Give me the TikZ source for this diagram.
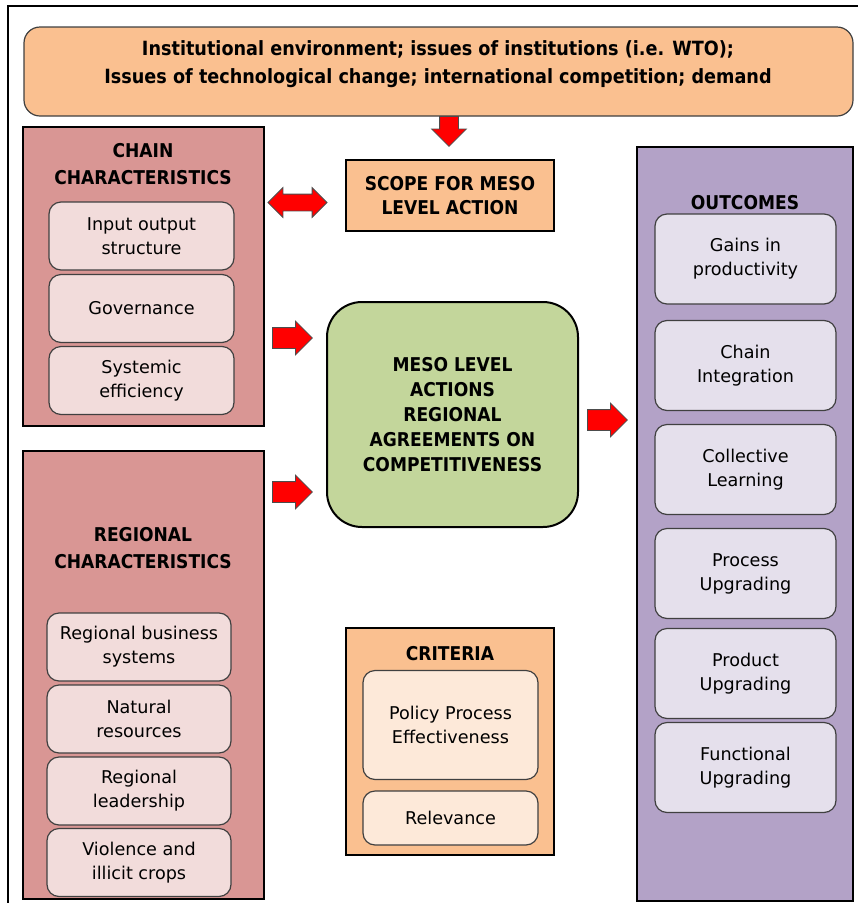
\documentclass[tikz,border=0pt]{standalone}
\usepackage{fontspec}
\setmainfont{DejaVu Sans}[BoldFeatures={FakeStretch=0.9}]
\usetikzlibrary{shapes.arrows}
\definecolor{peach}{HTML}{FAC090}
\definecolor{lightpeach}{HTML}{FDE9D9}
\definecolor{rose}{HTML}{D99694}
\definecolor{lightrose}{HTML}{F2DCDB}
\definecolor{mesogreen}{HTML}{C3D69B}
\definecolor{lilac}{HTML}{B3A2C7}
\definecolor{lightlilac}{HTML}{E5E0EC}
\begin{document}
\begin{tikzpicture}[x=1pt, y=-1pt,
    panel/.style={draw=black, line width=2.5pt, inner sep=0pt},
    itembox/.style={draw=black!75, line width=1.2pt, rounded corners=12pt, inner sep=0pt,
      align=center, font=\fontsize{17.6}{24}\selectfont},
    headtext/.style={align=center, font=\bfseries\fontsize{19}{27}\selectfont},
    fatarrow/.style={single arrow, draw=black!70, fill=red, line width=0.8pt,
      inner xsep=0pt, inner ysep=10pt, single arrow head extend=6.5pt,
      minimum height=40pt, anchor=tail},
    fatboth/.style={double arrow, draw=black!70, fill=red, line width=0.8pt,
      inner xsep=0pt, inner ysep=8pt, double arrow head extend=6.5pt,
      minimum height=59pt}]
  \useasboundingbox (0,0) rectangle (858,903);
  \draw[line width=1.6pt] (8,903) |- (858,6);

  \node[draw=black!75, line width=1.2pt, fill=peach, rounded corners=16pt,
    minimum width=829pt, minimum height=89pt] (env) at (438.5,71.5) {};
  \node[headtext, font=\bfseries\fontsize{19.6}{28}\selectfont] (envtext) at (438,64)
    {Institutional environment; issues of institutions (i.e. WTO);\\
     Issues of technological change; international competition; demand};

  \node[panel, fill=peach, minimum width=208pt, minimum height=71pt,
    headtext, font=\bfseries\fontsize{19}{24}\selectfont] (scope) at (450,195.5)
    {SCOPE FOR MESO\\LEVEL ACTION};

  \node[panel, fill=rose, minimum width=241pt, minimum height=299pt] (chain) at (143.5,276.5) {};
  \node[headtext] (chaintitle) at (143,164.5) {CHAIN\\CHARACTERISTICS};
  \node[itembox, fill=lightrose, minimum width=185pt, minimum height=68pt] (io) at (141.5,236) {Input output\\structure};
  \node[itembox, fill=lightrose, minimum width=185pt, minimum height=68pt] (gov) at (141.5,308.5) {Governance};
  \node[itembox, fill=lightrose, minimum width=185pt, minimum height=68pt] (sys) at (141.5,380.5) {Systemic\\efficiency};

  \node[panel, fill=rose, minimum width=241pt, minimum height=448pt] (region) at (143.5,675) {};
  \node[headtext] (regiontitle) at (143,548.5) {REGIONAL\\CHARACTERISTICS};
  \node[itembox, fill=lightrose, minimum width=184pt, minimum height=68pt] (rbs) at (139,647) {Regional business\\systems};
  \node[itembox, fill=lightrose, minimum width=184pt, minimum height=68pt] (nat) at (139,719) {Natural\\resources};
  \node[itembox, fill=lightrose, minimum width=184pt, minimum height=68pt] (lead) at (139,791) {Regional\\leadership};
  \node[itembox, fill=lightrose, minimum width=184pt, minimum height=68pt] (viol) at (139,862.5) {Violence and\\illicit crops};

  \node[draw=black, line width=2pt, fill=mesogreen, rounded corners=35pt,
    minimum width=251pt, minimum height=225pt,
    headtext, font=\bfseries\fontsize{19}{25}\selectfont] (meso) at (452.5,414.5)
    {MESO LEVEL\\ACTIONS\\REGIONAL\\AGREEMENTS ON\\COMPETITIVENESS};

  \node[panel, fill=peach, minimum width=208pt, minimum height=227pt] (crit) at (450,741.5) {};
  \node[headtext] (crittitle) at (450,654) {CRITERIA};
  \node[itembox, fill=lightpeach, minimum width=175pt, minimum height=109pt] (policy) at (450.5,725) {Policy Process\\Effectiveness};
  \node[itembox, fill=lightpeach, minimum width=175pt, minimum height=54pt] (rel) at (450.5,818) {Relevance};

  \node[panel, fill=lilac, minimum width=216pt, minimum height=754pt] (out) at (745,524) {};
  \node[headtext] (outtitle) at (745,203) {OUTCOMES};
  \node[itembox, fill=lightlilac, minimum width=181pt, minimum height=90pt] (gains) at (745.5,259) {Gains in\\productivity};
  \node[itembox, fill=lightlilac, minimum width=181pt, minimum height=90pt] (integ) at (745.5,365.5) {Chain\\Integration};
  \node[itembox, fill=lightlilac, minimum width=181pt, minimum height=90pt] (learn) at (745.5,469.5) {Collective\\Learning};
  \node[itembox, fill=lightlilac, minimum width=181pt, minimum height=90pt] (proc) at (745.5,573.5) {Process\\Upgrading};
  \node[itembox, fill=lightlilac, minimum width=181pt, minimum height=90pt] (prod) at (745.5,673.5) {Product\\Upgrading};
  \node[itembox, fill=lightlilac, minimum width=181pt, minimum height=90pt] (func) at (745.5,767.5) {Functional\\Upgrading};

  \node[fatarrow, rotate=-90, inner ysep=9pt, single arrow head extend=8pt,
    minimum height=30pt] (down) at (449,116) {};
  \node[fatboth] (both) at (297.5,202.5) {};
  \node[fatarrow] (toMesoA) at (272,338) {};
  \node[fatarrow] (toMesoB) at (272,492) {};
  \node[fatarrow] (toOut) at (587,420) {};
\end{tikzpicture}
\end{document}
